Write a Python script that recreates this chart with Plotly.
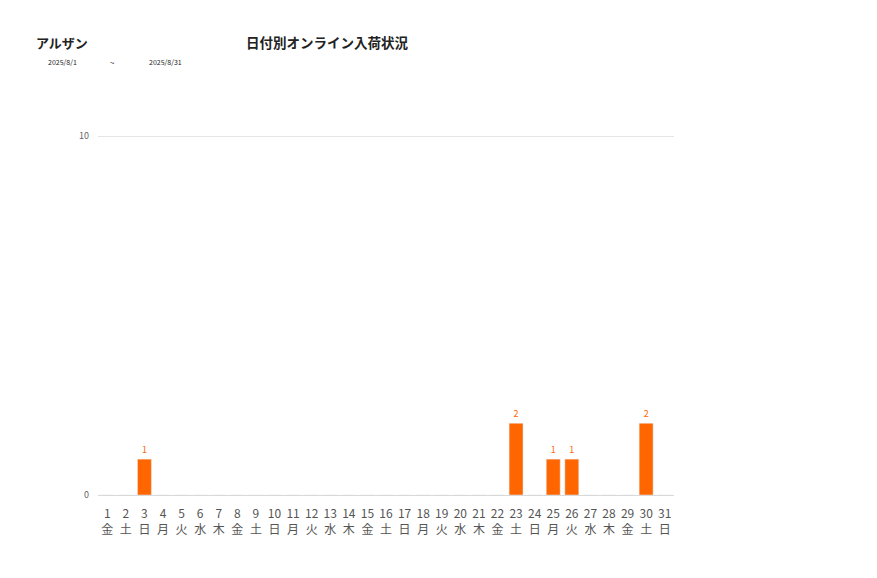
import plotly.graph_objects as go

# 日付と曜日
days = list(range(1, 32))
weekdays = ['金', '土', '日', '月', '火', '水', '木'] * 5
weekdays = weekdays[:31]
labels = [str(d) + '<br>' + w for d, w in zip(days, weekdays)]

# 入荷件数
counts = [0, 0, 1, 0, 0, 0, 0, 0, 0, 0, 0, 0, 0, 0, 0, 0,
          0, 0, 0, 0, 0, 0, 2, 0, 1, 1, 0, 0, 0, 2, 0]

shop = 'アルザン'
title = '日付別オンライン入荷状況'
dateFrom = '2025/8/1'
dateTo = '2025/8/31'

texts = [str(c) if c > 0 else '' for c in counts]

# ページの余白(8px)を考慮した配置
L, T, PW, PH = 90, 127, 576, 360
W, H = 877, 578

fig = go.Figure([go.Bar(x=labels, y=counts, text=texts, textposition='outside',
                        marker=dict(color='#FF6600'),
                        textfont=dict(color='#FF6600', size=9),
                        cliponaxis=False)])

fig.update_layout(
    width=W, height=H,
    margin=dict(l=L, r=W - L - PW, t=T, b=H - T - PH),
    paper_bgcolor='white', plot_bgcolor='white',
    font=dict(family='Noto Sans CJK JP', color='#555555'),
    bargap=0.25,
    showlegend=False,
    xaxis=dict(type='category', tickfont=dict(size=12, color='#555555'),
               showline=True, linecolor='#d9d9d9', ticks='outside', ticklen=8,
               tickcolor='rgba(0,0,0,0)'),
    yaxis=dict(range=[0, 10.03], tickvals=[0, 10], tickfont=dict(size=9, color='#666666'),
               showgrid=True, gridcolor='#e6e6e6', zeroline=False, ticklen=0,
               ticklabelstandoff=8),
)


def note(text, px, py, size, anchor='center'):
    # 画面上のピクセル位置から paper 座標へ
    fig.add_annotation(text=text, xref='paper', yref='paper',
                       x=(px - 8 - L) / PW, y=1 + (T - (py - 8)) / PH,
                       xanchor=anchor, yanchor='middle', showarrow=False,
                       font=dict(size=size, color='#222222'))


note('<b>' + shop + '</b>', 34, 42, 13, 'left')
note('<b>' + title + '</b>', 327, 42, 13.5)
note(dateFrom, 62, 62, 7)
note('~', 112, 62, 8)
note(dateTo, 165, 62, 7)

fig.write_html("out.html")
